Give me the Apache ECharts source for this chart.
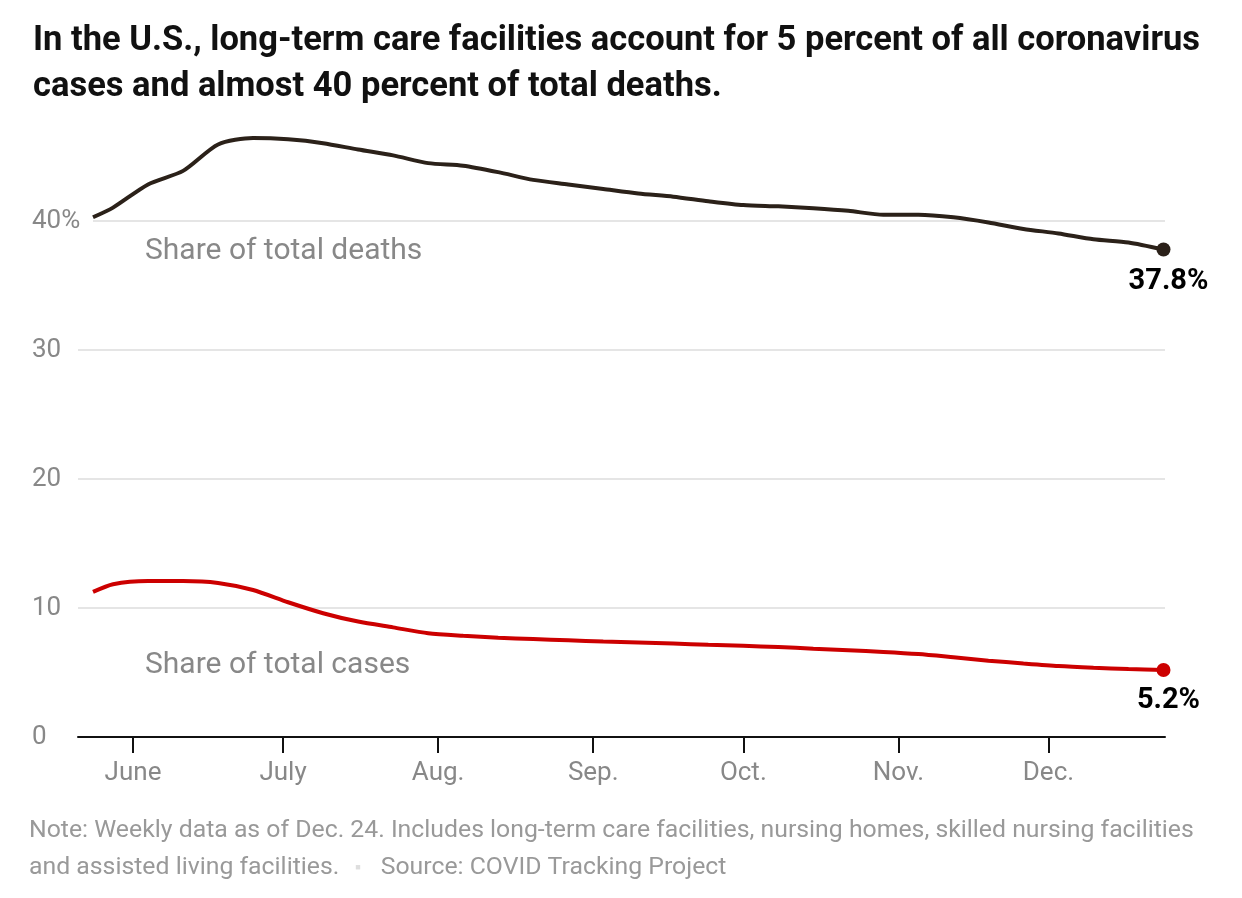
<!DOCTYPE html>
<html>
<head>
<meta charset="utf-8">
<script src="https://cdn.jsdelivr.net/npm/echarts@6/dist/echarts.min.js"></script>
<style>
html,body{margin:0;padding:0;background:#fff;}
#chart{width:1242px;height:898px;}
</style>
</head>
<body>
<div id="chart"></div>
<script>
const titleText = "In the U.S., long-term care facilities account for 5 percent of all coronavirus\ncases and almost 40 percent of total deaths.";
const dates = ["2020-05-24","2020-05-28","2020-06-04","2020-06-11","2020-06-18","2020-06-25",
  "2020-07-02","2020-07-09","2020-07-16","2020-07-23","2020-07-30",
  "2020-08-06","2020-08-13","2020-08-20","2020-08-27",
  "2020-09-03","2020-09-10","2020-09-17","2020-09-24",
  "2020-10-01","2020-10-08","2020-10-15","2020-10-22","2020-10-29",
  "2020-11-05","2020-11-12","2020-11-19","2020-11-26",
  "2020-12-03","2020-12-10","2020-12-17","2020-12-24"];
const deathsShare = [40.3,41.05,42.85,43.9,45.95,46.45,46.35,46.05,45.55,45.1,44.5,44.3,43.8,43.2,42.85,42.5,42.15,41.9,41.55,41.25,41.15,41.0,40.8,40.5,40.5,40.3,39.9,39.4,39.05,38.6,38.35,37.8];
const casesShare = [11.25,11.85,12.1,12.1,11.95,11.4,10.45,9.6,8.95,8.5,8.05,7.85,7.7,7.6,7.5,7.4,7.33,7.25,7.15,7.07,6.98,6.85,6.73,6.6,6.43,6.18,5.92,5.7,5.5,5.37,5.27,5.2];
const monthTicks = ["2020-06-01","2020-07-01","2020-08-01","2020-09-01","2020-10-01","2020-11-01","2020-12-01"];
const monthLabels = ["June","July","Aug.","Sep.","Oct.","Nov.","Dec."];
const yTicks = [0,10,20,30,40];
const yTickLabels = ["0","10","20","30","40%"];
const xMin = "2020-05-21";
const xMax = "2020-12-24";
const deathsLabel = "Share of total deaths";
const casesLabel = "Share of total cases";
const noteText = "Note: Weekly data as of Dec. 24. Includes long-term care facilities, nursing homes, skilled nursing facilities";
const noteText2 = "and assisted living facilities.";
const sourceText = "Source: COVID Tracking Project";

const DAY = 86400000;
const ts = s => Date.UTC(+s.slice(0,4), +s.slice(5,7)-1, +s.slice(8,10));
const FONT = "Roboto, 'Liberation Sans', sans-serif";
const GREY = "#888";
const deathsColor = "#2b2119";
const casesColor = "#cc0000";

const chart = echarts.init(document.getElementById('chart'), null, {renderer:'canvas'});
const deathsData = dates.map((d,i)=>[ts(d), deathsShare[i]]);
const casesData = dates.map((d,i)=>[ts(d), casesShare[i]]);
const last = dates.length-1;
const monthTs = monthTicks.map(ts);
const gridLines = yTicks.filter(v=>v>0 && v<40).map(v=>({yAxis:v}));
gridLines.push([{coord:[ts(dates[0]), 40]},{coord:[ts(xMax)+0.3*DAY, 40]}]);

function endMark(data, label, color, dist){
  return {
    symbol:'circle', symbolSize:14, silent:true,
    itemStyle:{color:color},
    label:{show:true, position:'bottom', distance:dist, offset:[5,0], formatter:label,
      color:'#000', fontFamily:FONT, fontWeight:'bold', fontSize:29},
    data:[{coord:data}]
  };
}

chart.setOption({
  animation:false,
  title:{
    text:titleText, left:28, top:13,
    textStyle:{fontFamily:FONT, fontWeight:'bold', fontSize:34.5, lineHeight:46, color:'#111'}
  },
  grid:{left:78, right:77, top:118, bottom:161, containLabel:false},
  xAxis:{
    type:'value', min:ts(xMin), max:ts(xMax)+0.3*DAY,
    axisLine:{show:true, lineStyle:{color:'#111', width:2}},
    axisTick:{show:true, length:16, lineStyle:{color:'#111', width:2}, customValues:monthTs},
    axisLabel:{show:true, color:GREY, fontFamily:FONT, fontSize:26, margin:23,
      customValues:monthTs,
      formatter:function(v){ const i = monthTs.indexOf(v); return i>=0?monthLabels[i]:''; }},
    splitLine:{show:false}
  },
  yAxis:{
    type:'value', min:0, max:48, interval:10, z:10,
    axisLine:{show:false}, axisTick:{show:false}, splitLine:{show:false},
    axisLabel:{show:true, align:'left', margin:46, color:GREY, fontFamily:FONT, fontSize:26,
      customValues:yTicks,
      formatter:function(v){ const i = yTicks.indexOf(v); return i>=0?yTickLabels[i]:''; }}
  },
  series:[
    {
      type:'line', data:deathsData, showSymbol:false, smooth:0.25, z:3,
      lineStyle:{color:deathsColor, width:4}, itemStyle:{color:deathsColor},
      markLine:{silent:true, symbol:'none', z:1, label:{show:false},
        lineStyle:{color:'#dcdcdc', width:1.5, type:'solid'}, data:gridLines},
      markPoint:endMark(deathsData[last], deathsShare[last].toFixed(1)+'%', deathsColor, 11)
    },
    {
      type:'line', data:casesData, showSymbol:false, smooth:0.25, z:3,
      lineStyle:{color:casesColor, width:4}, itemStyle:{color:casesColor},
      markPoint:endMark(casesData[last], casesShare[last].toFixed(1)+'%', casesColor, 9)
    }
  ],
  graphic:[
    {type:'text', left:145, top:236, style:{text:deathsLabel, fill:GREY, font:"30px "+FONT}},
    {type:'text', left:145, top:650, style:{text:casesLabel, fill:GREY, font:"30px "+FONT}},
    {type:'text', left:29, top:818, style:{text:noteText, fill:'#999', font:"24.8px "+FONT}},
    {type:'text', left:29, top:855, style:{
      text:'{a|'+noteText2+'}{b|■}{a|'+sourceText+'}',
      rich:{a:{fill:'#999', font:"24.8px "+FONT}, b:{fill:'#dedede', font:"9px "+FONT, padding:[0,20,0,16]}}}}
  ]
});
</script>
</body>
</html>
